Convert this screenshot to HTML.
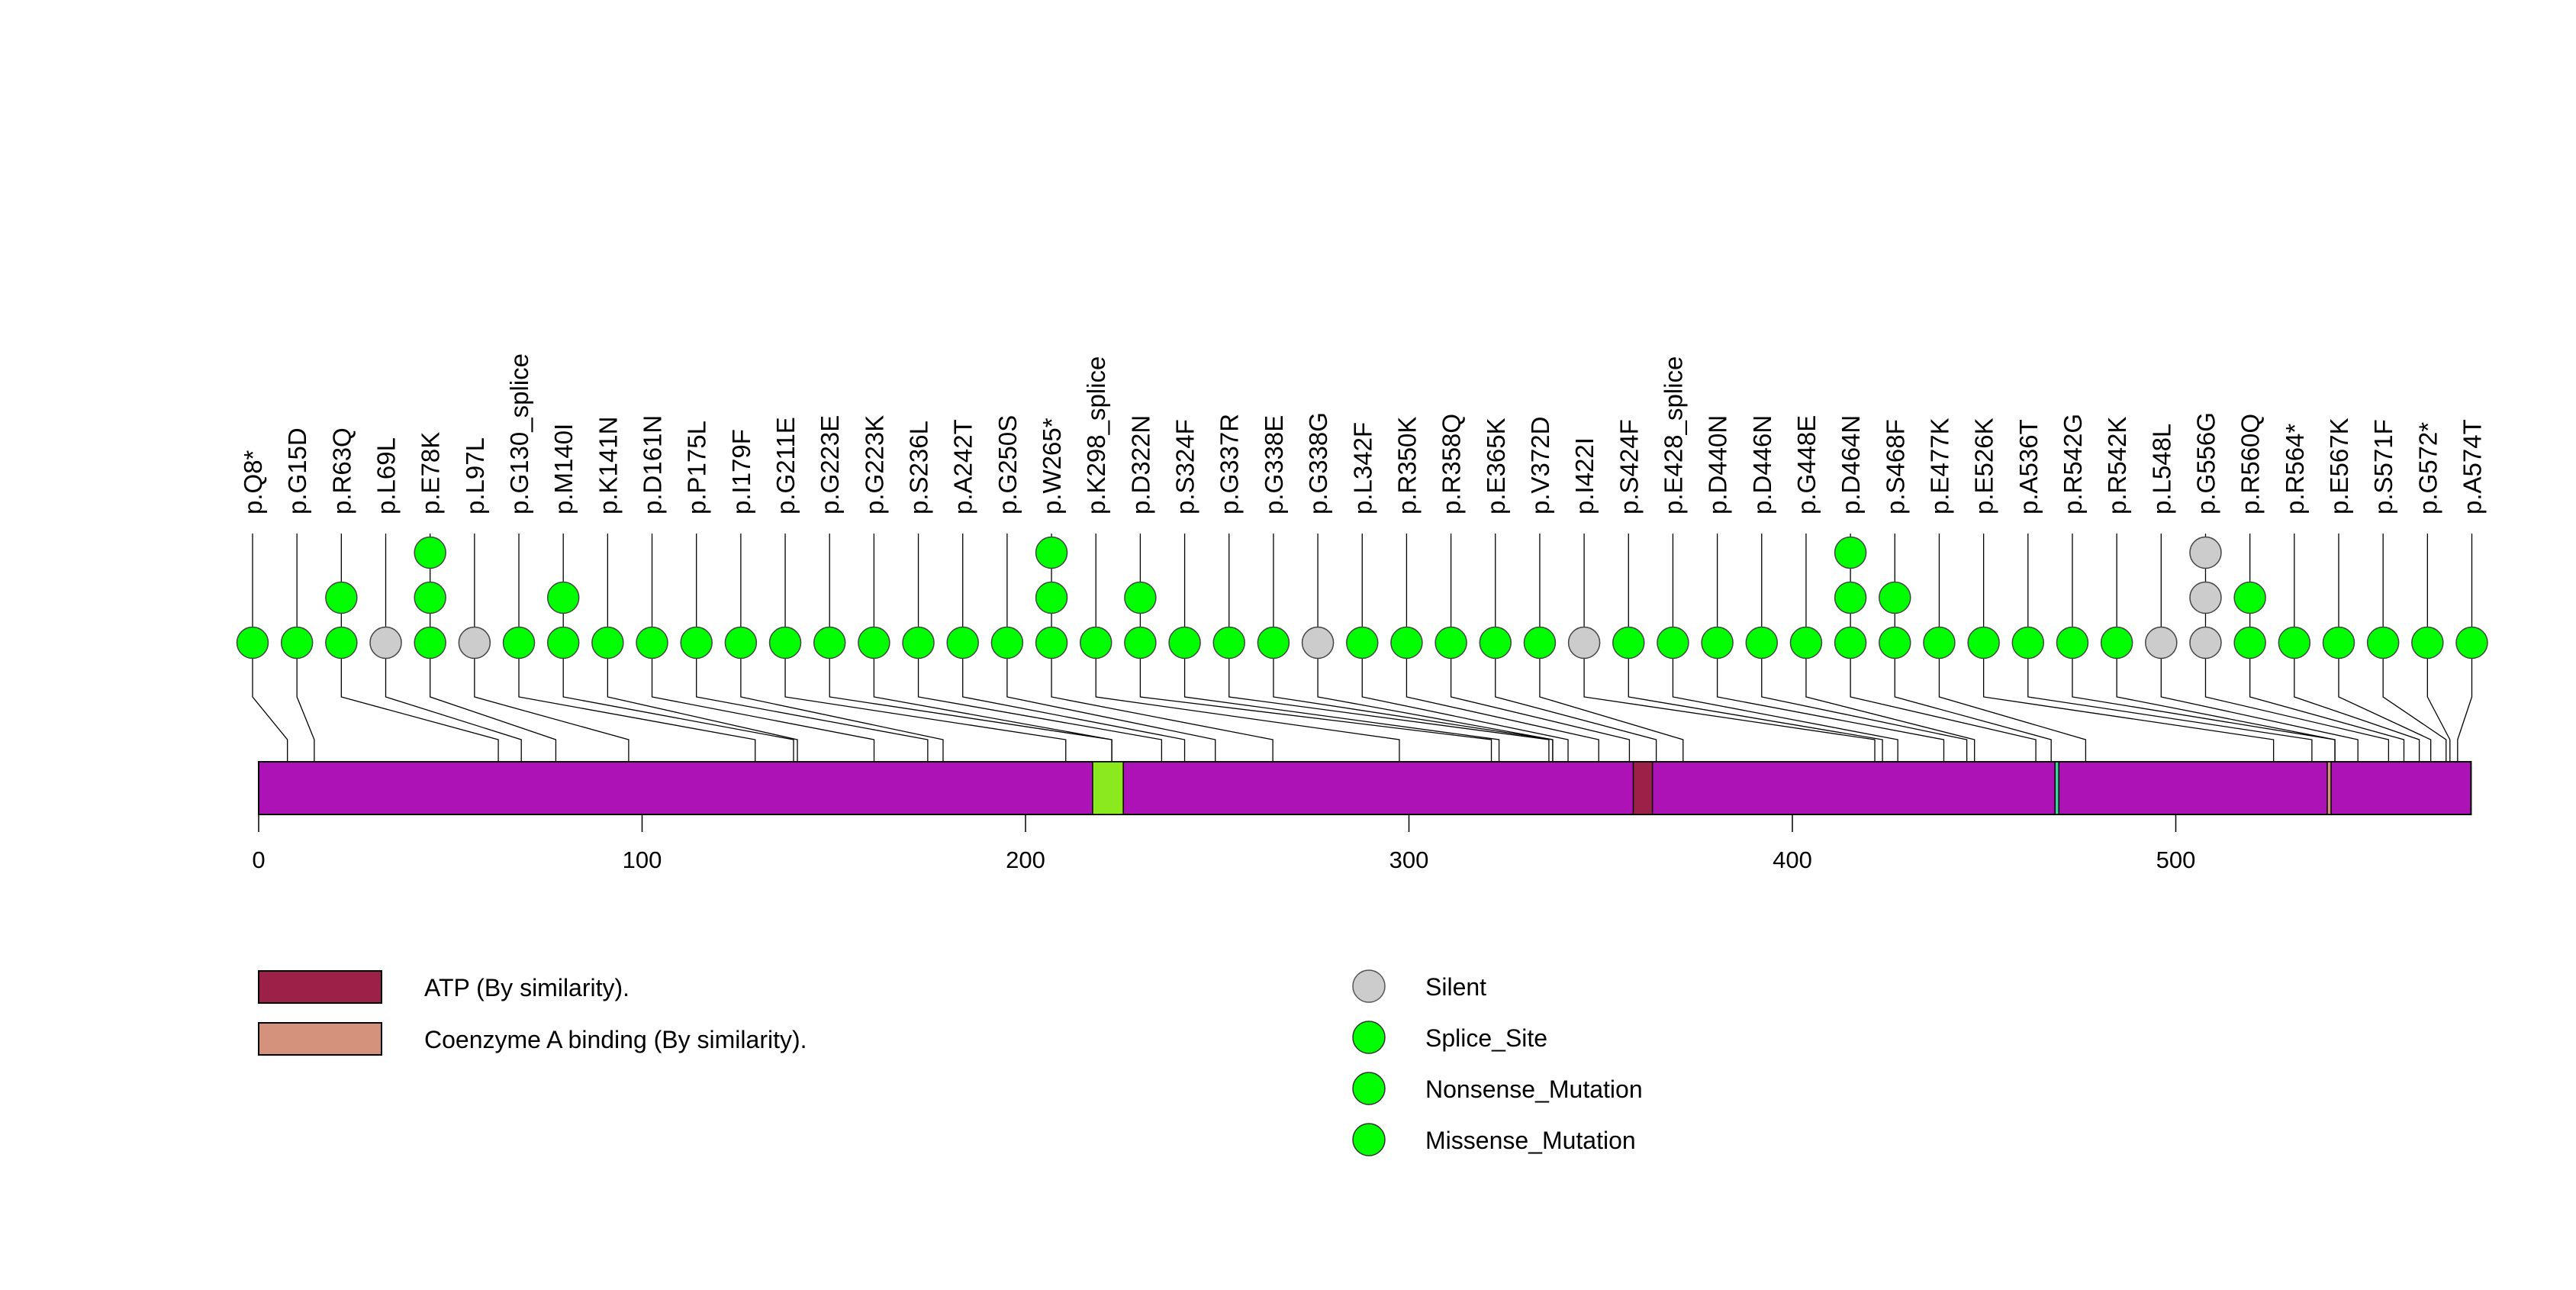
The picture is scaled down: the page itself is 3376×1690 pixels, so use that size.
<!DOCTYPE html>
<html><head><meta charset="utf-8"><style>
html,body{margin:0;padding:0;background:#fff}
svg{display:block}
text{font-family:"Liberation Sans",sans-serif}
</style></head><body>
<svg id="chart" width="3376" height="1690" xmlns="http://www.w3.org/2000/svg">
<rect width="3376" height="1690" fill="#fff"/>
<g id="stems"></g>
<g id="protein"></g>
<g id="axis"></g>
<g id="dots"></g>
<g id="labels"></g>
<g>
<rect x="339" y="1272" width="161" height="42" fill="#9B2148" stroke="#000" stroke-width="2"/>
<text x="556" y="1305" font-size="32">ATP (By similarity).</text>
<rect x="339" y="1340" width="161" height="42" fill="#D4917C" stroke="#000" stroke-width="2"/>
<text x="556" y="1373" font-size="32">Coenzyme A binding (By similarity).</text>
<circle cx="1794" cy="1292" r="21" fill="#CCCCCC" stroke="#555" stroke-width="1.5"/>
<text x="1868" y="1304" font-size="32">Silent</text>
<circle cx="1794" cy="1359" r="21" fill="#00FF00" stroke="#333" stroke-width="1.5"/>
<text x="1868" y="1371" font-size="32">Splice_Site</text>
<circle cx="1794" cy="1426" r="21" fill="#00FF00" stroke="#333" stroke-width="1.5"/>
<text x="1868" y="1438" font-size="32">Nonsense_Mutation</text>
<circle cx="1794" cy="1493" r="21" fill="#00FF00" stroke="#333" stroke-width="1.5"/>
<text x="1868" y="1505" font-size="32">Missense_Mutation</text>
</g>
</svg>
<script>
const labels = ["p.Q8*","p.G15D","p.R63Q","p.L69L","p.E78K","p.L97L","p.G130_splice","p.M140I","p.K141N","p.D161N","p.P175L","p.I179F","p.G211E","p.G223E","p.G223K","p.S236L","p.A242T","p.G250S","p.W265*","p.K298_splice","p.D322N","p.S324F","p.G337R","p.G338E","p.G338G","p.L342F","p.R350K","p.R358Q","p.E365K","p.V372D","p.I422I","p.S424F","p.E428_splice","p.D440N","p.D446N","p.G448E","p.D464N","p.S468F","p.E477K","p.E526K","p.A536T","p.R542G","p.R542K","p.L548L","p.G556G","p.R560Q","p.R564*","p.E567K","p.S571F","p.G572*","p.A574T"];
const positions = [8,15,63,69,78,97,130,140,141,161,175,179,211,223,223,236,242,250,265,298,322,324,337,338,338,342,350,358,365,372,422,424,428,440,446,448,464,468,477,526,536,542,542,548,556,560,564,567,571,572,574];
const counts = [1,1,2,1,3,1,1,2,1,1,1,1,1,1,1,1,1,1,3,1,2,1,1,1,1,1,1,1,1,1,1,1,1,1,1,1,3,2,1,1,1,1,1,1,3,2,1,1,1,1,1];
const silent = [0,0,0,1,0,1,0,0,0,0,0,0,0,0,0,0,0,0,0,0,0,0,0,0,1,0,0,0,0,0,1,0,0,0,0,0,0,0,0,0,0,0,0,1,1,0,0,0,0,0,0];
const proteinLength = 577;
const domainStarts = [218, 359, 469, 540];
const domainEnds = [226, 364, 470, 541];
const domainNames = ["green-domain","atp-domain","teal-domain","coa-domain"];
const domainColors = ["#8BEA1E","#9B2148","#3DD39A","#D4917C"];
const ticks = [0,100,200,300,400,500];

const NS="http://www.w3.org/2000/svg";
const X0=339, K=5.025;
function xs(p){return X0+(p-0.5)*K;}
function slot(i){return 331+i*58.17;}
function rowY(j){return 842-j*59;}
function mk(tag,attrs,parent){const e=document.createElementNS(NS,tag);for(const k in attrs)e.setAttribute(k,attrs[k]);parent.appendChild(e);return e;}

const stems=document.getElementById('stems'),prot=document.getElementById('protein'),axis=document.getElementById('axis'),dots=document.getElementById('dots'),lab=document.getElementById('labels');

const bar=mk('rect',{x:X0,y:998,width:proteinLength*K,height:69,fill:'#AC12B5',stroke:'#000','stroke-width':2},prot);


domainStarts.forEach((s,i)=>{
  const r=mk('rect',{x:xs(s),y:998,width:(domainEnds[i]-s)*K,height:69,fill:domainColors[i],stroke:'#000','stroke-width':1.5},prot);
  
  
});

labels.forEach((l,i)=>{
  const sx=slot(i), px=xs(positions[i]);
  const p=mk('polyline',{points:`${sx},699 ${sx},913 ${px},969 ${px},1067`,fill:'none',stroke:'#000','stroke-width':1.3},stems);
  
  
  for(let j=0;j<counts[i];j++){
    const c=mk('circle',{cx:sx,cy:rowY(j),r:20.5,fill:silent[i]?'#CCCCCC':'#00FF00',stroke:'#444','stroke-width':1.5},dots);
    
    
  }
  const t=mk('text',{x:0,y:0,'font-size':33,transform:`translate(${sx+12},674) rotate(-90)`},lab);
  t.textContent=l;
  
  
});

ticks.forEach(v=>{
  const x=X0+v*K;
  const ln=mk('line',{x1:x,y1:1067,x2:x,y2:1090,stroke:'#000','stroke-width':1.5},axis);
  
  
  const t=mk('text',{x:x,y:1137,'font-size':31,'text-anchor':'middle'},axis);
  t.textContent=v;
  
  
});
</script>
</body></html>
